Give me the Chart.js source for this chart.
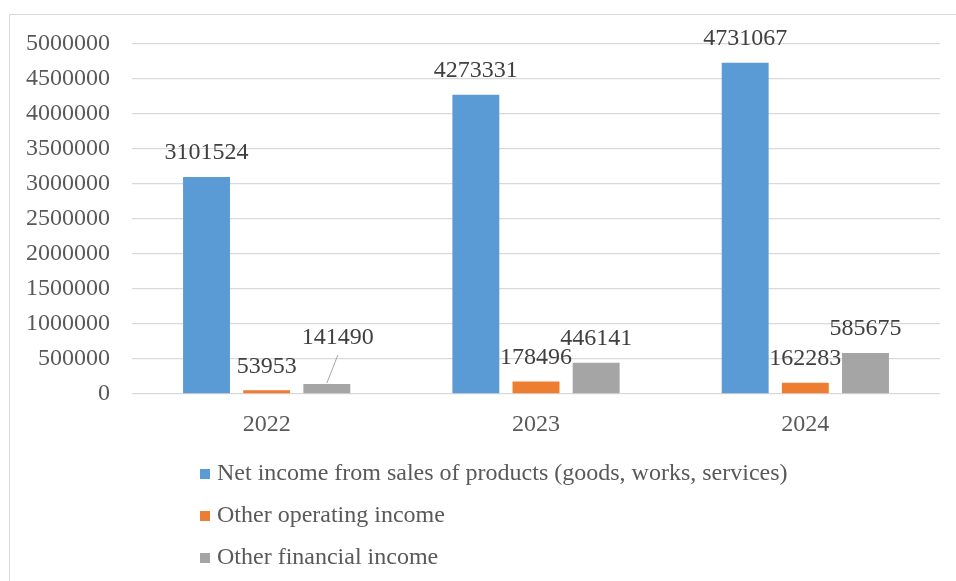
<!DOCTYPE html>
<html>
<head>
<meta charset="utf-8">
<script src="https://cdn.jsdelivr.net/npm/chart.js@4/dist/chart.umd.min.js"></script>
<style>
  body { margin: 0; background: #fff; }
</style>
</head>
<body>
<canvas id="incomeChart" width="956" height="581"></canvas>
<script>
const years = ['2022', '2023', '2024'];
const netSales = [3101524, 4273331, 4731067];
const otherOperating = [53953, 178496, 162283];
const otherFinancial = [141490, 446141, 585675];
const seriesNames = [
    'Net income from sales of products (goods, works, services)',
    'Other operating income',
    'Other financial income'
];
const seriesColors = ['#5b9bd5', '#ed7d31', '#a5a5a5'];
const yMax = 5000000;
const yStep = 500000;

const fontFamily = '"Liberation Serif", "Times New Roman", serif';
const textColor = '#595959';

// labels that sit off the bar with a leader line (dataset-index : offset)
const leaderLabels = { '2-0': { dx: 11, dy: -46 } };

const valueLabels = {
    id: 'valueLabels',
    afterDatasetsDraw(chart) {
        const ctx = chart.ctx;
        ctx.save();
        ctx.font = '24px ' + fontFamily;
        ctx.fillStyle = '#404040';
        ctx.textAlign = 'center';
        ctx.textBaseline = 'middle';
        chart.data.datasets.forEach((ds, d) => {
            chart.getDatasetMeta(d).data.forEach((bar, i) => {
                const lead = leaderLabels[d + '-' + i];
                if (lead) {
                    ctx.strokeStyle = '#a6a6a6';
                    ctx.lineWidth = 1;
                    ctx.beginPath();
                    ctx.moveTo(bar.x + lead.dx, bar.y + lead.dy + 17);
                    ctx.lineTo(bar.x, bar.y - 1);
                    ctx.stroke();
                    ctx.fillText(ds.data[i], bar.x + lead.dx, bar.y + lead.dy);
                } else {
                    ctx.fillText(ds.data[i], bar.x, bar.y - 24);
                }
            });
        });
        ctx.restore();
    }
};

const sideLegend = {
    id: 'sideLegend',
    afterDraw(chart) {
        const ctx = chart.ctx;
        ctx.save();
        // frame
        ctx.strokeStyle = '#d9d9d9';
        ctx.lineWidth = 1;
        ctx.beginPath();
        ctx.moveTo(9.5, 600);
        ctx.lineTo(9.5, 14.5);
        ctx.lineTo(960, 14.5);
        ctx.stroke();
        // legend
        ctx.font = '24px ' + fontFamily;
        ctx.textBaseline = 'middle';
        ctx.textAlign = 'left';
        chart.data.datasets.forEach((ds, d) => {
            const y = 474 + d * 42;
            ctx.fillStyle = ds.backgroundColor;
            ctx.fillRect(200, y - 5, 10, 10);
            ctx.fillStyle = textColor;
            ctx.fillText(ds.label, 217, y);
        });
        ctx.restore();
    }
};

const datasets = [netSales, otherOperating, otherFinancial].map((vals, k) => ({
    label: seriesNames[k],
    data: vals,
    backgroundColor: seriesColors[k],
    categoryPercentage: 0.67,
    barPercentage: 0.78
}));

let ctx = document.getElementById('incomeChart').getContext('2d');
new Chart(ctx, {
    type: 'bar',
    data: { labels: years, datasets: datasets },
    plugins: [valueLabels, sideLegend],
    options: {
        responsive: false,
        animation: false,
        devicePixelRatio: 1,
        layout: { padding: { top: 44, right: 16, left: 0, bottom: 0 } },
        plugins: {
            legend: { display: false },
            tooltip: { enabled: false }
        },
        scales: {
            x: {
                grid: { display: false },
                border: { display: false },
                ticks: { color: textColor, font: { family: fontFamily, size: 24 }, padding: 8 },
                afterFit(scale) { scale.height = 187; }
            },
            y: {
                min: 0,
                max: yMax,
                grid: { color: '#d9d9d9', lineWidth: 1.3, drawTicks: false },
                border: { display: false },
                ticks: {
                    stepSize: yStep,
                    color: textColor,
                    padding: 22,
                    font: { family: fontFamily, size: 24 },
                    callback: v => v
                },
                afterFit(scale) { scale.width = 132; }
            }
        }
    }
});
</script>
</body>
</html>
